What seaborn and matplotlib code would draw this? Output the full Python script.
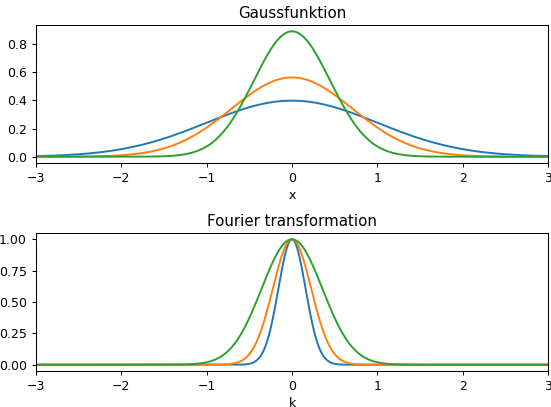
import numpy as np
import pandas as pd
import matplotlib
matplotlib.use("Agg")
import matplotlib.pyplot as plt
import seaborn as sns

# Data: widths (variance) of the three Gaussians read from the peaks
variances = [1.0, 0.5, 0.2]
labels = ["s1", "s2", "s3"]
colors = ["#1f77b4", "#ff7f0e", "#2ca02c"]
x_ticks = [-3, -2, -1, 0, 1, 2, 3]
top_yticks = [0.0, 0.2, 0.4, 0.6, 0.8]
bot_yticks = [0.0, 0.25, 0.5, 0.75, 1.0]

xs = np.linspace(-3, 3, 601)
rows_g, rows_f = [], []
for lab, v in zip(labels, variances):
    g = np.exp(-xs**2 / (2 * v)) / np.sqrt(2 * np.pi * v)
    f = np.exp(-2 * np.pi**2 * v * xs**2)
    rows_g.append(pd.DataFrame({"x": xs, "y": g, "s": lab}))
    rows_f.append(pd.DataFrame({"k": xs, "y": f, "s": lab}))
dg = pd.concat(rows_g)
df = pd.concat(rows_f)

plt.rcParams['font.family'] = ['DejaVu Sans']
plt.rcParams['xtick.labelsize'] = 9
plt.rcParams['ytick.labelsize'] = 9
plt.rcParams['axes.labelsize'] = 9
plt.rcParams['axes.titlesize'] = 10.8
plt.rcParams['xtick.major.size'] = 3.2
plt.rcParams['ytick.major.size'] = 3.2
plt.rcParams['axes.linewidth'] = 0.75
plt.rcParams['xtick.major.width'] = 0.75
plt.rcParams['ytick.major.width'] = 0.75

fig = plt.figure(figsize=(5.51, 4.07), dpi=100)
ax1 = fig.add_axes([0.0653, 0.5995, 0.9293, 0.3391])
ax2 = fig.add_axes([0.0653, 0.0885, 0.9293, 0.3390])

pal = dict(zip(labels, colors))
sns.lineplot(data=dg, x="x", y="y", hue="s", palette=pal, ax=ax1, legend=False, linewidth=1.4)
sns.lineplot(data=df, x="k", y="y", hue="s", palette=pal, ax=ax2, legend=False, linewidth=1.4)

for ax in (ax1, ax2):
    ax.set_xlim(-3, 3)
    ax.set_xticks(x_ticks)
    ax.set_ylabel("")
    ax.xaxis.labelpad = 3
ax1.set_yticks(top_yticks)
ax2.set_yticks(bot_yticks)
ax1.set_ylim(-0.0446, 0.937)
ax2.set_ylim(-0.05, 1.05)
ax1.set_title("Gaussfunktion", pad=5)
ax2.set_title("Fourier transformation", pad=5)
ax1.set_xlabel("x")
ax2.set_xlabel("k")

fig.savefig("out.png", dpi=100)
